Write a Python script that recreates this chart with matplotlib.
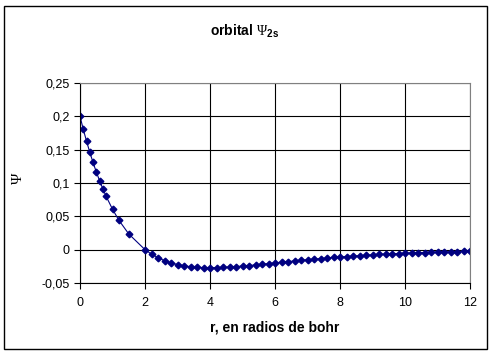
import matplotlib.pyplot as plt
from matplotlib.patches import Rectangle
from matplotlib.ticker import FuncFormatter

plt.rcParams['font.family'] = ['Liberation Sans', 'DejaVu Sans']
plt.rcParams['mathtext.fontset'] = 'custom'
plt.rcParams['mathtext.rm'] = 'Liberation Serif'
plt.rcParams['mathtext.bf'] = 'Liberation Sans:bold'

# r (bohr radii) and psi values
r = [0, 0.1, 0.2, 0.3, 0.4, 0.5, 0.6, 0.7, 0.8, 1.0, 1.2, 1.5, 2.0,
     2.2, 2.4, 2.6, 2.8, 3.0, 3.2, 3.4, 3.6, 3.8, 4.0,
     4.2, 4.4, 4.6, 4.8, 5.0, 5.2, 5.4, 5.6, 5.8, 6.0,
     6.2, 6.4, 6.6, 6.8, 7.0, 7.2, 7.4, 7.6, 7.8, 8.0,
     8.2, 8.4, 8.6, 8.8, 9.0, 9.2, 9.4, 9.6, 9.8, 10.0,
     10.2, 10.4, 10.6, 10.8, 11.0, 11.2, 11.4, 11.6, 11.8, 12.0]
psi = [0.2, 0.1807, 0.1629, 0.1463, 0.1310, 0.1168, 0.1037, 0.0916, 0.0804,
       0.0607, 0.0439, 0.0236, 0.0,
       -0.0067, -0.0120, -0.0164, -0.0197, -0.0223, -0.0242, -0.0256, -0.0265,
       -0.0269, -0.0271,
       -0.0269, -0.0266, -0.0261, -0.0254, -0.0246, -0.0238, -0.0229, -0.0219,
       -0.0209, -0.0199,
       -0.0189, -0.0179, -0.0170, -0.0160, -0.0151, -0.0142, -0.0134, -0.0125,
       -0.0117, -0.0110,
       -0.0103, -0.0096, -0.0090, -0.0084, -0.0078, -0.0072, -0.0067, -0.0063,
       -0.0058, -0.0054,
       -0.0050, -0.0046, -0.0043, -0.0040, -0.0037, -0.0034, -0.0032, -0.0029,
       -0.0027, -0.0025]

xticks = [0, 2, 4, 6, 8, 10, 12]
yticks = [-0.05, 0, 0.05, 0.1, 0.15, 0.2, 0.25]

W, H = 491, 354
fig = plt.figure(figsize=(W / 100, H / 100), dpi=100)
# outer chart border
fig.patches.append(Rectangle((4 / W, 5 / H), 483 / W, 343 / H, transform=fig.transFigure,
                             fill=False, edgecolor='black', linewidth=1))

ax = fig.add_axes([80 / W, 1 - 283 / H, 390 / W, 200 / H])
ax.plot(r, psi, color='#000080', linewidth=0.8, marker='D', markersize=3.4,
        markerfacecolor='#000080', markeredgecolor='#000080')

ax.set_xlim(0, 12)
ax.set_ylim(-0.05, 0.25)
ax.set_xticks(xticks)
ax.set_yticks(yticks)
ax.xaxis.set_major_formatter(FuncFormatter(lambda v, p: f'{v:g}'))
ax.yaxis.set_major_formatter(FuncFormatter(lambda v, p: f'{v:g}'.replace('.', ',')))
ax.grid(True, color='black', linewidth=0.8)
ax.tick_params(labelsize=9, length=4, width=0.8, color='black')
ax.tick_params(axis='x', pad=6)

for side in ['top', 'right']:
    ax.spines[side].set_color('#808080')
for side in ['left', 'bottom']:
    ax.spines[side].set_color('black')

fig.text(245 / W, 1 - 31 / H, 'orbital $\\mathrm{\\Psi}_{\\mathbf{2s}}$', ha='center', va='center',
         fontsize=10, fontweight='bold')
ax.set_xlabel('r, en radios de bohr', fontsize=10, fontweight='bold', labelpad=8)
fig.text(18 / W, 1 - 178 / H, '$\\mathrm{\\Psi}$', rotation=90, ha='center', va='center',
         fontsize=11)

fig.savefig('out.png', dpi=100)
